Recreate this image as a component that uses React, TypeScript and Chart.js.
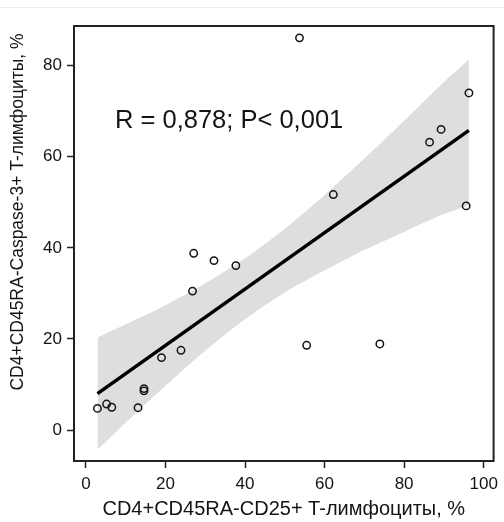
import React, { useEffect, useRef } from "react";
import { Chart, registerables } from "chart.js";

Chart.register(...registerables);

// Scatter observations (x: CD4+CD45RA-CD25+, y: CD4+CD45RA-Caspase-3+)
const pointX = [53.7, 96.3, 89.3, 86.4, 62.2, 95.6, 27.1, 32.2, 37.7, 26.8, 55.5, 73.9, 23.9, 19.0, 14.6, 14.6, 2.9, 5.2, 6.5, 13.1];
const pointY = [86.1, 74.0, 66.0, 63.2, 51.7, 49.2, 38.8, 37.2, 36.1, 30.5, 18.6, 18.9, 17.5, 15.9, 9.1, 8.6, 4.75, 5.7, 5.0, 4.9];

// Regression line ends
const lineX = [2.9, 96.3];
const lineY = [8.0, 65.8];

// Confidence band edges
const bandX = [2.9, 10, 20, 30, 40, 50, 60, 70, 80, 90, 96.3];
const bandUpper = [20.3, 23.2, 27.4, 32.2, 37.7, 44.2, 51.6, 59.6, 67.9, 76.4, 81.3];
const bandLower = [-4.3, 1.6, 9.7, 17.4, 24.3, 30.2, 35.0, 39.5, 43.5, 47.4, 49.3];

// Ticks
const xTicks = [0, 20, 40, 60, 80, 100];
const yTicks = [0, 20, 40, 60, 80];

const xTitle = "CD4+CD45RA-CD25+ T-лимфоциты, %";
const yTitle = "CD4+CD45RA-Caspase-3+ T-лимфоциты, %";
const annotation = "R = 0,878; P< 0,001";
const topFragment = "и CD4+CD25+ T-клеток памяти.";

const FONT = "Arial, 'Liberation Sans', sans-serif";
const INK = "#141414";

const decorPlugin = {
  id: "decor",
  afterDraw(chart: any) {
    const ctx = chart.ctx;
    const { left, top, right, bottom } = chart.chartArea;
    ctx.save();
    // box
    ctx.strokeStyle = "#222";
    ctx.lineWidth = 2;
    ctx.strokeRect(left, top, right - left, bottom - top);
    ctx.fillStyle = INK;
    // annotation
    ctx.font = `25.5px ${FONT}`;
    ctx.textAlign = "left";
    ctx.textBaseline = "alphabetic";
    ctx.fillText(annotation, 115, 128);
    // x title
    ctx.font = `20px ${FONT}`;
    ctx.textAlign = "center";
    ctx.fillText(xTitle, (left + right) / 2, 515);
    // y title
    ctx.font = `17.5px ${FONT}`;
    ctx.translate(23, 212);
    ctx.rotate(-Math.PI / 2);
    ctx.fillText(yTitle, 0, 0);
    ctx.restore();
  },
};

export default function App() {
  const ref = useRef<HTMLCanvasElement | null>(null);

  useEffect(() => {
    if (!ref.current) return;
    const chart = new Chart(ref.current, {
      type: "scatter",
      data: {
        datasets: [
          {
            label: "points",
            data: pointX.map((x, i) => ({ x, y: pointY[i] })),
            pointRadius: 3.7,
            pointBorderWidth: 1.5,
            pointBorderColor: INK,
            pointBackgroundColor: "rgba(0,0,0,0)",
            showLine: false,
          },
          {
            label: "fit",
            data: lineX.map((x, i) => ({ x, y: lineY[i] })),
            showLine: true,
            borderColor: "#000",
            borderWidth: 3.5,
            pointRadius: 0,
            fill: false,
          },
          {
            label: "upper",
            data: bandX.map((x, i) => ({ x, y: bandUpper[i] })),
            showLine: true,
            borderWidth: 0,
            borderColor: "rgba(0,0,0,0)",
            backgroundColor: "#dedede",
            pointRadius: 0,
            tension: 0.3,
            fill: "+1",
          },
          {
            label: "lower",
            data: bandX.map((x, i) => ({ x, y: bandLower[i] })),
            showLine: true,
            borderWidth: 0,
            borderColor: "rgba(0,0,0,0)",
            pointRadius: 0,
            tension: 0.3,
            fill: false,
          },
        ],
      },
      options: {
        animation: false,
        responsive: false,
        events: [],
        layout: { padding: { top: 26, right: 7, left: 0, bottom: 0 } },
        plugins: { legend: { display: false }, tooltip: { enabled: false } },
        scales: {
          x: {
            type: "linear",
            min: -3,
            max: 102.5,
            afterBuildTicks: (s: any) => {
              s.ticks = xTicks.map((v) => ({ value: v }));
            },
            afterFit: (s: any) => {
              s.height = 61;
            },
            grid: {
              drawOnChartArea: false,
              drawTicks: true,
              tickLength: 7,
              tickColor: "#222",
              tickWidth: 1.5,
              color: "#222",
            },
            border: { display: false },
            ticks: {
              color: INK,
              font: { family: FONT, size: 17 },
              padding: 6,
              maxRotation: 0,
              autoSkip: false,
            },
          },
          y: {
            type: "linear",
            min: -6.8,
            max: 88.7,
            afterBuildTicks: (s: any) => {
              s.ticks = yTicks.map((v) => ({ value: v }));
            },
            afterFit: (s: any) => {
              s.width = 74;
            },
            grid: {
              drawOnChartArea: false,
              drawTicks: true,
              tickLength: 7,
              tickColor: "#222",
              tickWidth: 1.5,
              color: "#222",
            },
            border: { display: false },
            ticks: {
              color: INK,
              font: { family: FONT, size: 17 },
              padding: 5,
              autoSkip: false,
            },
          },
        },
      },
      plugins: [decorPlugin],
    });
    return () => chart.destroy();
  }, []);

  return (
    <div style={{ position: "absolute", left: 0, top: 0, width: 504, height: 522, background: "#fff", overflow: "hidden" }}>
      <div
        style={{
          position: "absolute",
          left: 0,
          top: -14,
          whiteSpace: "nowrap",
          font: `17px ${FONT}`,
          lineHeight: "17px",
          color: "#333",
        }}
      >
        {topFragment}
      </div>
      <div style={{ position: "absolute", left: 0, top: 7, width: 504, height: 1, background: "#ececec" }} />
      <canvas ref={ref} width={504} height={522} style={{ position: "absolute", left: 0, top: 0 }} />
    </div>
  );
}
